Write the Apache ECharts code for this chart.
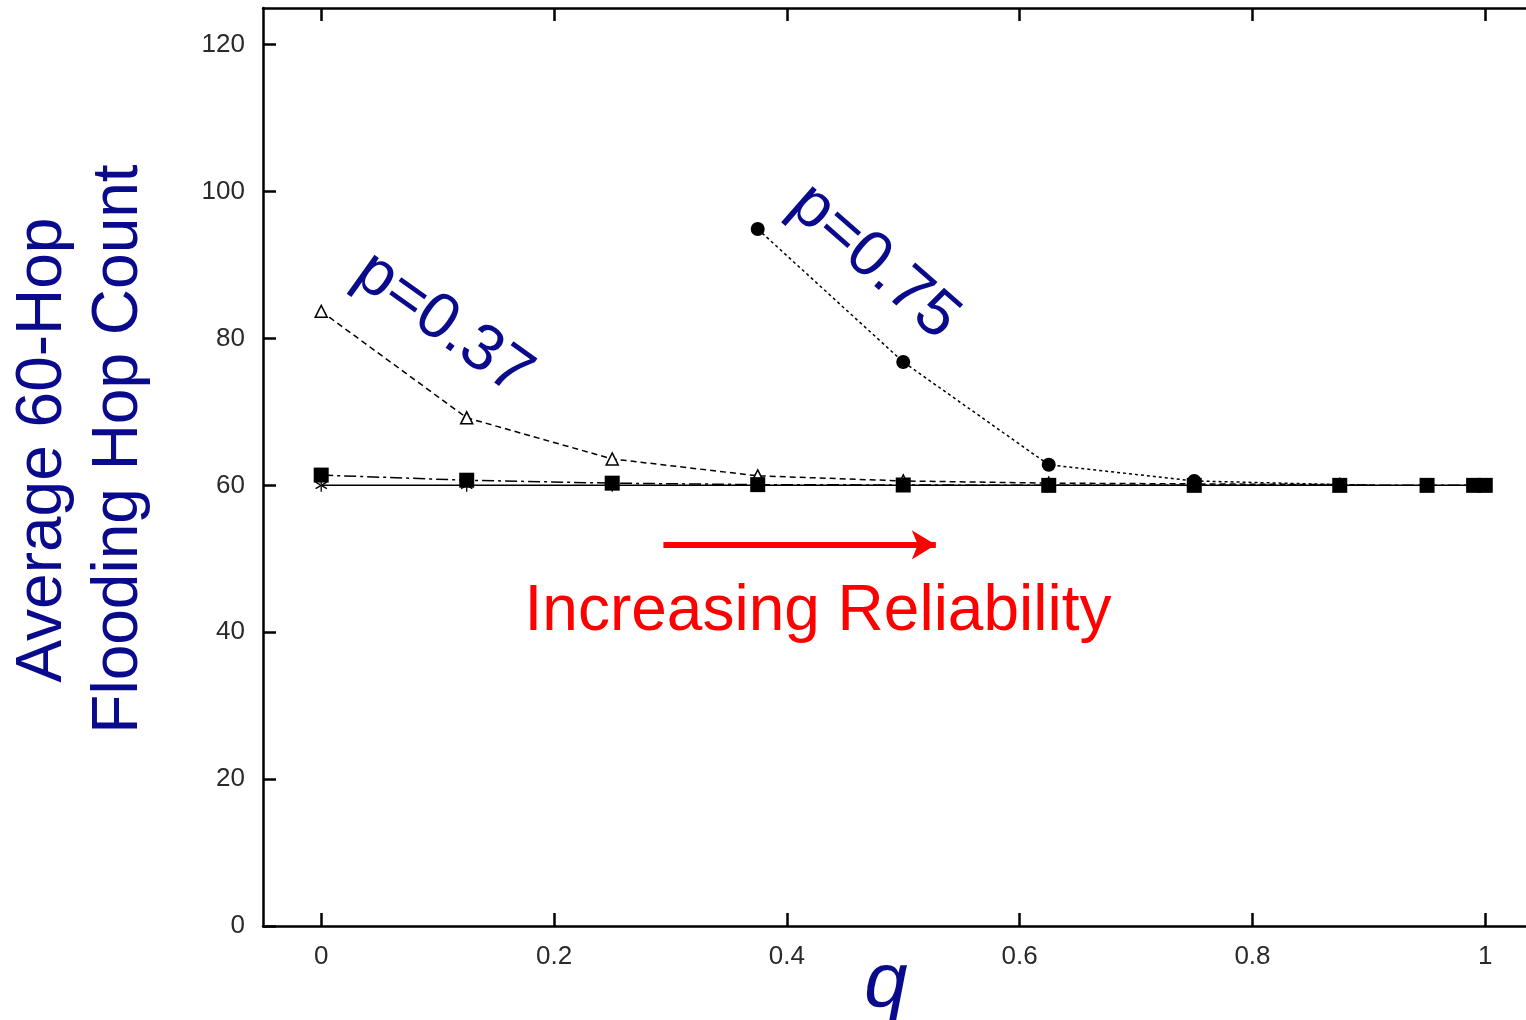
<!DOCTYPE html>
<html>
<head>
<meta charset="utf-8">
<script src="https://cdn.jsdelivr.net/npm/echarts@6/dist/echarts.min.js"></script>
<style>html,body{margin:0;padding:0;background:#fff}#c{width:1526px;height:1020px}</style>
</head>
<body>
<div id="c"></div>
<script>
// ---- data ----
var xTicks = [0, 0.2, 0.4, 0.6, 0.8, 1];
var yTicks = [0, 20, 40, 60, 80, 100, 120];

var qBase = [0, 0.125, 0.25, 0.375, 0.5, 0.625, 0.75, 0.875, 1];
var vBase = [60, 60, 60, 60, 60, 60, 60, 60, 60];

var qSquare = [0, 0.125, 0.25, 0.375, 0.5, 0.625, 0.75, 0.875, 0.95, 0.99, 1];
var vSquare = [61.4, 60.7, 60.3, 60.1, 60.05, 60, 60, 60, 60, 60, 60];

var qTri = [0, 0.125, 0.25, 0.375, 0.5, 0.625, 0.75, 0.875];
var vTri = [83.7, 69.2, 63.6, 61.3, 60.6, 60.3, 60.2, 60.1];
var triTail = [0.905, 60.0];

var qCirc = [0.375, 0.5, 0.625, 0.75, 0.875];
var vCirc = [94.9, 76.8, 62.8, 60.6, 60.1];
var circTail = [0.905, 60.0];

var arrowFrom = [0.294, 51.9];
var arrowTo = [0.528, 51.9];

function zip(a, b) { return a.map(function (x, i) { return [x, b[i]]; }); }

var starPath = 'path://M-0.1,-1L0.1,-1L0.1,1L-0.1,1Z' +
  'M0.816,0.587L0.916,0.413L-0.816,-0.587L-0.916,-0.413Z' +
  'M-0.916,0.413L-0.816,0.587L0.916,-0.413L0.816,-0.587Z';

var navy = '#0a0a8c';
var labelFont = { fontFamily: 'Liberation Sans', fontSize: 26, color: '#2a2a2a' };

var chart = echarts.init(document.getElementById('c'), null, { renderer: 'canvas' });
chart.setOption({
  animation: false,
  backgroundColor: '#fff',
  grid: { left: 263, top: 8, right: 0, bottom: 94, containLabel: false },
  xAxis: [{
    type: 'value', min: -0.05, max: 1.035, position: 'bottom',
    axisLine: { show: true, onZero: false, lineStyle: { color: '#000', width: 2.5 } },
    axisTick: { show: true, inside: true, length: 13, customValues: xTicks, lineStyle: { color: '#000', width: 2.5 } },
    axisLabel: Object.assign({ customValues: xTicks, margin: 18, formatter: function (v) { return String(v); } }, labelFont),
    splitLine: { show: false }
  }, {
    type: 'value', min: -0.05, max: 1.035, position: 'top',
    axisLine: { show: true, onZero: false, lineStyle: { color: '#000', width: 2.5 } },
    axisTick: { show: true, inside: true, length: 13, customValues: xTicks, lineStyle: { color: '#000', width: 2.5 } },
    axisLabel: { show: false },
    splitLine: { show: false }
  }],
  yAxis: [{
    type: 'value', min: 0, max: 125,
    axisLine: { show: true, onZero: false, lineStyle: { color: '#000', width: 2.5 } },
    axisTick: { show: true, inside: true, length: 13, customValues: yTicks, lineStyle: { color: '#000', width: 2.5 } },
    axisLabel: Object.assign({ customValues: yTicks, margin: 18 }, labelFont),
    splitLine: { show: false }
  }],
  graphic: [
    { type: 'text', x: 43, y: 450, rotation: Math.PI / 2, style: { text: 'Average 60-Hop', font: '64px "Liberation Sans"', fill: navy, align: 'center', verticalAlign: 'middle' } },
    { type: 'text', x: 119, y: 449, rotation: Math.PI / 2, style: { text: 'Flooding Hop Count', font: '64px "Liberation Sans"', fill: navy, align: 'center', verticalAlign: 'middle' } },
    { type: 'text', x: 886, y: 985, style: { text: 'q', font: 'italic 78px "Liberation Sans"', fill: navy, align: 'center', verticalAlign: 'middle' } },
    { type: 'text', x: 443, y: 324, rotation: -0.62, style: { text: 'p=0.37', font: '65px "Liberation Sans"', fill: navy, align: 'center', verticalAlign: 'middle' } },
    { type: 'text', x: 874, y: 262, rotation: -0.72, style: { text: 'p=0.75', font: '65px "Liberation Sans"', fill: navy, align: 'center', verticalAlign: 'middle' } },
    { type: 'text', x: 818, y: 612, style: { text: 'Increasing Reliability', font: '64px "Liberation Sans"', fill: '#ff0000', align: 'center', verticalAlign: 'middle' } }
  ],
  series: [
    {
      name: 'base', type: 'line', data: zip(qBase, vBase), silent: true,
      lineStyle: { color: '#000', width: 1.5, type: 'solid' },
      symbol: starPath, symbolKeepAspect: true, symbolSize: 13,
      itemStyle: { color: '#000' }, z: 2,
      markLine: {
        silent: true, symbol: ['none', 'arrow'], symbolSize: [22, 24],
        label: { show: false },
        lineStyle: { color: '#ff0000', width: 6, type: 'solid' },
        data: [[{ coord: arrowFrom }, { coord: arrowTo }]]
      }
    },
    {
      name: 'tri', type: 'line', silent: true,
      data: zip(qTri, vTri).concat([{ value: triTail, symbol: 'none' }]),
      lineStyle: { color: '#000', width: 1.5, type: [6, 4] },
      symbol: 'triangle', symbolSize: 12,
      itemStyle: { color: '#fff', borderColor: '#000', borderWidth: 1.5 }, z: 3
    },
    {
      name: 'circ', type: 'line', silent: true,
      data: zip(qCirc, vCirc).concat([{ value: circTail, symbol: 'none' }]),
      lineStyle: { color: '#000', width: 1.5, type: [3, 3] },
      symbol: 'circle', symbolSize: 14,
      itemStyle: { color: '#000' }, z: 4
    },
    {
      name: 'square', type: 'line', silent: true,
      data: zip(qSquare, vSquare),
      lineStyle: { color: '#000', width: 1.5, type: [12, 4, 3, 4] },
      symbol: 'rect', symbolSize: 15,
      itemStyle: { color: '#000' }, z: 5
    }
  ]
});
</script>
</body>
</html>
